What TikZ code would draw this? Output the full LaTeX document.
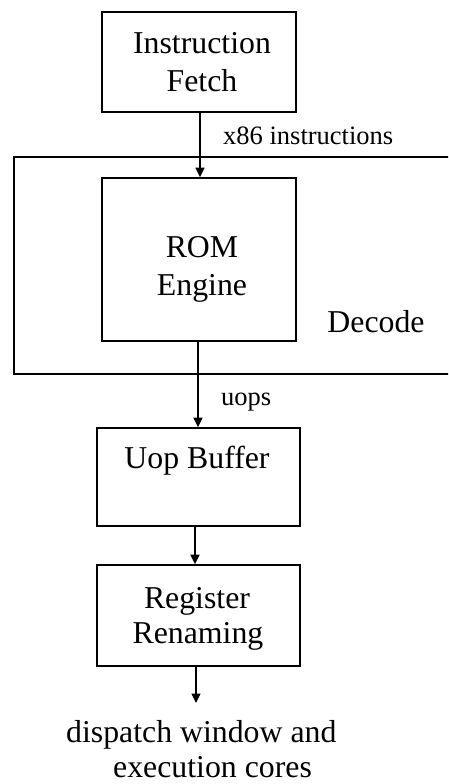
\documentclass[tikz,border=0pt]{standalone}
\usepackage{fontspec}
\setmainfont{Liberation Serif}
\usetikzlibrary{arrows.meta}
\tikzset{
  blk/.style={draw, line width=1.6pt, inner sep=0pt},
  arr/.style={line width=1.5pt, -{Triangle[length=9.5pt,width=9pt]}},
  big/.style={inner sep=0pt, font=\fontsize{31.8}{37}\selectfont},
  small/.style={inner sep=0pt, font=\fontsize{26.5}{30}\selectfont},
}
\begin{document}
\begin{tikzpicture}[x=1pt,y=-1pt]
\useasboundingbox (0,0) rectangle (448,784);
\clip (0,0) rectangle (448,784);
% boxes
\node[blk, minimum width=194pt, minimum height=100pt] (fetch) at (199,62) {};
\node[blk, minimum width=480pt, minimum height=217pt, anchor=north west] (decode) at (13,156) {};
\node[blk, minimum width=194pt, minimum height=163pt, fill=white] (rom) at (199,259.5) {};
\node[blk, minimum width=203pt, minimum height=98pt] (uop) at (198.5,477) {};
\node[blk, minimum width=203pt, minimum height=101pt] (reg) at (198.5,615.5) {};
\coordinate (out) at (196,703);
% texts
\node[big, anchor=base] (t1) at (202,54) {Instruction};
\node[big, anchor=base] (t2) at (202,91) {Fetch};
\node[big, anchor=base] (t3) at (202,257) {ROM};
\node[big, anchor=base] (t4) at (202,295) {Engine};
\node[big, anchor=base] (t5) at (376,332) {Decode};
\node[big, anchor=base] (t6) at (197,468) {Uop Buffer};
\node[big, anchor=base] (t7) at (197,608) {Register};
\node[big, anchor=base] (t8) at (198,643) {Renaming};
\node[big, anchor=base west] (t9) at (66,742) {dispatch window and};
\node[big, anchor=base west] (t10) at (113,777) {execution cores};
\node[small, anchor=base west] (lx) at (223,144) {x86 instructions};
\node[small, anchor=base west] (lu) at (221,405) {uops};
% connectors
\draw[arr] ([xshift=1pt]fetch.south) -- ([xshift=1pt]rom.north);
\draw[arr] ([xshift=-1pt]rom.south) -- ([xshift=-0.5pt]uop.north);
\draw[arr] ([xshift=-3.5pt]uop.south) -- ([xshift=-3.5pt]reg.north);
\draw[arr] ([xshift=-2.5pt]reg.south) -- (out);
\end{tikzpicture}
\end{document}
